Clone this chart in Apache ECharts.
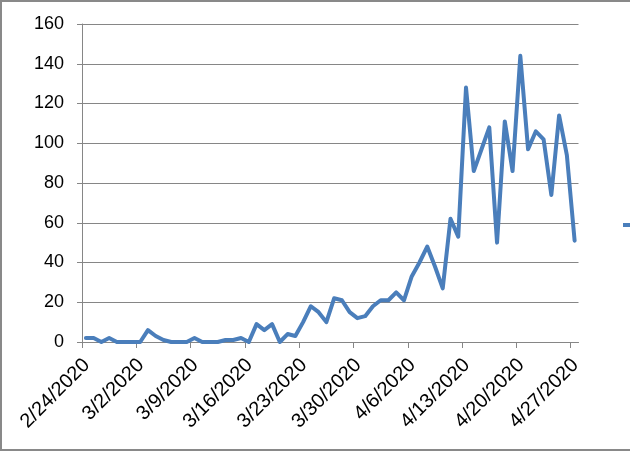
<!DOCTYPE html>
<html>
<head>
<meta charset="utf-8">
<script src="https://cdn.jsdelivr.net/npm/echarts@6/dist/echarts.min.js"></script>
<style>
html,body{margin:0;padding:0;background:#fff;overflow:hidden;}
#chart{width:630px;height:452px;}
</style>
</head>
<body>
<div id="chart"></div>
<script>
// Daily categories 2/24/2020 .. 4/27/2020
const dates = ["2/24/2020","2/25/2020","2/26/2020","2/27/2020","2/28/2020","2/29/2020","3/1/2020",
"3/2/2020","3/3/2020","3/4/2020","3/5/2020","3/6/2020","3/7/2020","3/8/2020",
"3/9/2020","3/10/2020","3/11/2020","3/12/2020","3/13/2020","3/14/2020","3/15/2020",
"3/16/2020","3/17/2020","3/18/2020","3/19/2020","3/20/2020","3/21/2020","3/22/2020",
"3/23/2020","3/24/2020","3/25/2020","3/26/2020","3/27/2020","3/28/2020","3/29/2020",
"3/30/2020","3/31/2020","4/1/2020","4/2/2020","4/3/2020","4/4/2020","4/5/2020",
"4/6/2020","4/7/2020","4/8/2020","4/9/2020","4/10/2020","4/11/2020","4/12/2020",
"4/13/2020","4/14/2020","4/15/2020","4/16/2020","4/17/2020","4/18/2020","4/19/2020",
"4/20/2020","4/21/2020","4/22/2020","4/23/2020","4/24/2020","4/25/2020","4/26/2020",
"4/27/2020"];
const values = [2,2,0,2,0,0,0,
0,6,3,1,0,0,0,
2,0,0,0,1,1,2,
0,9,6,9,0,4,3,
10,18,15,10,22,21,15,
12,13,18,21,21,25,21,
33,40,48,38,27,62,53,
128,86,97,108,50,111,86,
144,97,106,102,74,114,94,
51];
const tickLabelIdx = [0,7,14,21,28,35,42,49,56,63];
const yTicks = [0,20,40,60,80,100,120,140,160];
const seriesName = "Series1";

const chart = echarts.init(document.getElementById('chart'), null, {renderer:'canvas'});
const font = 'Liberation Sans';
chart.setOption({
  animation:false,
  backgroundColor:'#ffffff',
  grid:{left:82, right:51.5, top:24, bottom:110, containLabel:false},
  legend:{
    show:true, left:623, top:216, orient:'vertical', padding:0,
    itemWidth:14, itemHeight:4, icon:'rect',
    textStyle:{fontFamily:font, fontSize:18, color:'#000'},
    data:[{name:seriesName, icon:'rect'}]
  },
  xAxis:{
    type:'value', min:0, max:dates.length, interval:7,
    axisLine:{show:true, lineStyle:{color:'#868686', width:1}},
    axisTick:{show:true, length:6, inside:false, lineStyle:{color:'#868686'}, customValues:tickLabelIdx},
    axisLabel:{
      customValues:tickLabelIdx.map(function(i){return i+0.6;}),
      rotate:45, margin:20, color:'#000', fontFamily:font, fontSize:20,
      formatter:function(v){ return dates[Math.floor(v)] || ''; }
    },
    splitLine:{show:false}
  },
  yAxis:{
    type:'value', min:yTicks[0], max:yTicks[yTicks.length-1], interval:20,
    axisLine:{show:true, lineStyle:{color:'#868686', width:1}},
    axisTick:{show:true, length:5, inside:false, lineStyle:{color:'#868686'}},
    axisLabel:{margin:18, color:'#000', fontFamily:font, fontSize:18},
    splitLine:{show:true, lineStyle:{color:'#868686', width:1}}
  },
  series:[{
    name:seriesName,
    type:'line',
    data:values.map(function(v,i){return [i+0.5, v];}),
    showSymbol:false,
    symbol:'none',
    lineStyle:{color:'#4a7ebb', width:4, join:'round', cap:'round'},
    itemStyle:{color:'#4a7ebb'}
  }],
  graphic:[{
    type:'rect', silent:true, z:100,
    shape:{x:1, y:1, width:700, height:449},
    style:{fill:null, stroke:'#898989', lineWidth:2}
  }]
});
</script>
</body>
</html>
